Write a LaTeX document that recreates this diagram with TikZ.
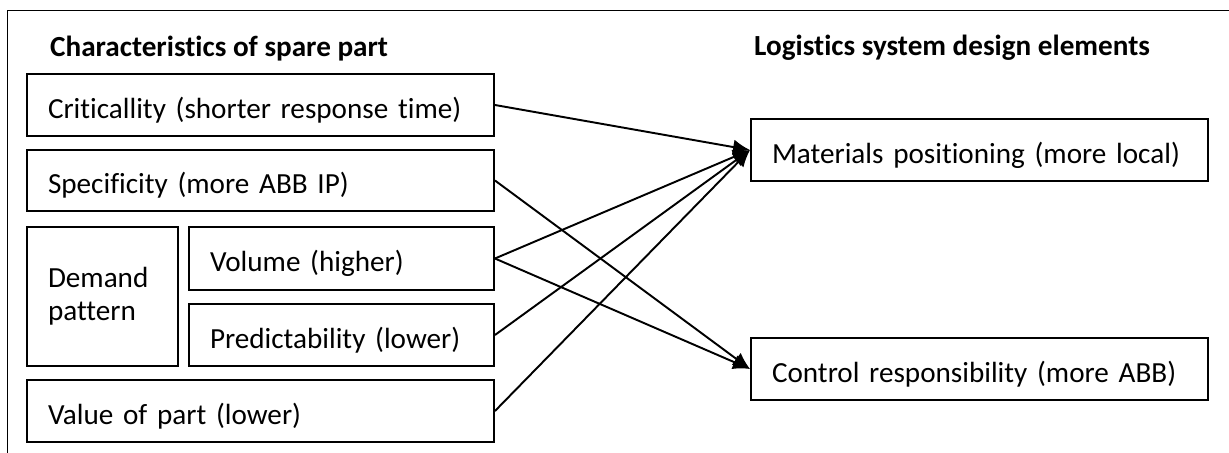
\documentclass[tikz,border=0pt]{standalone}
\usepackage{fontspec}
\setmainfont{Carlito}[Ligatures={NoCommon}]
\usepackage{tikz}
\usetikzlibrary{arrows.meta,positioning,calc}

\begin{document}
\begin{tikzpicture} % boxes on the left feed the two design elements on the right
\tikzset{every node/.style={font=\fontsize{16.6}{18.8}\selectfont}} % one text size for the whole figure
\tikzset{head/.style={anchor=base west, font=\fontsize{16.6}{18.8}\selectfont\bfseries}}
\tikzset{box/.style={draw, rectangle, line width=1.1pt, inner xsep=0.42cm, inner ysep=0pt, align=left,
  execute at begin node={\hyphenpenalty=10000}}}
\tikzset{part/.style={box, minimum height=1.24cm, text height=18.3pt, text depth=3.1pt}} % single line boxes, text a bit below the middle
\tikzset{link/.style={line width=1.1pt, -{Latex[length=0.34cm,width=0.3cm]}}}
\useasboundingbox (0,0) rectangle (24.58,-9.06);
\draw[line width=1.1pt] (0.15,-9.06) -- (0.15,-0.21) -- (24.58,-0.21); % frame, cut at right and bottom
\node[head] (headL) at (0.88,-1.134) {Characteristics of spare part};
\node[head] (headR) at (14.96,-1.114) {Logistics system design elements};
\node[part, text width=8.50cm] (crit) at (5.21,-2.10) {Criticallity (shorter response time)};
\node[part, text width=8.50cm, minimum height=1.22cm] (spec) at (5.21,-3.61) {Specificity (more ABB IP)};
\node[box, text width=2.18cm, minimum height=2.78cm] (demand) at (2.05,-5.93) {Demand\\pattern};
\node[part, text width=5.26cm, minimum height=1.26cm] (vol) at (6.83,-5.17) {Volume (higher)};
\node[part, text width=5.26cm] (pred) at (6.83,-6.70) {Predictability (lower)};
\node[part, text width=8.50cm] (value) at (5.21,-8.22) {Value of part (lower)};
\node[part, text width=8.30cm] (mat) at (19.59,-3.00) {Materials positioning (more local)};
\node[part, text width=8.30cm] (ctrl) at (19.59,-7.38) {Control responsibility (more ABB)};
\foreach \src/\dst in {crit/mat, spec/ctrl, vol/mat, vol/ctrl, pred/mat, value/mat}
  \draw[link] (\src.east) -- (\dst.west);
\end{tikzpicture}
\end{document}
